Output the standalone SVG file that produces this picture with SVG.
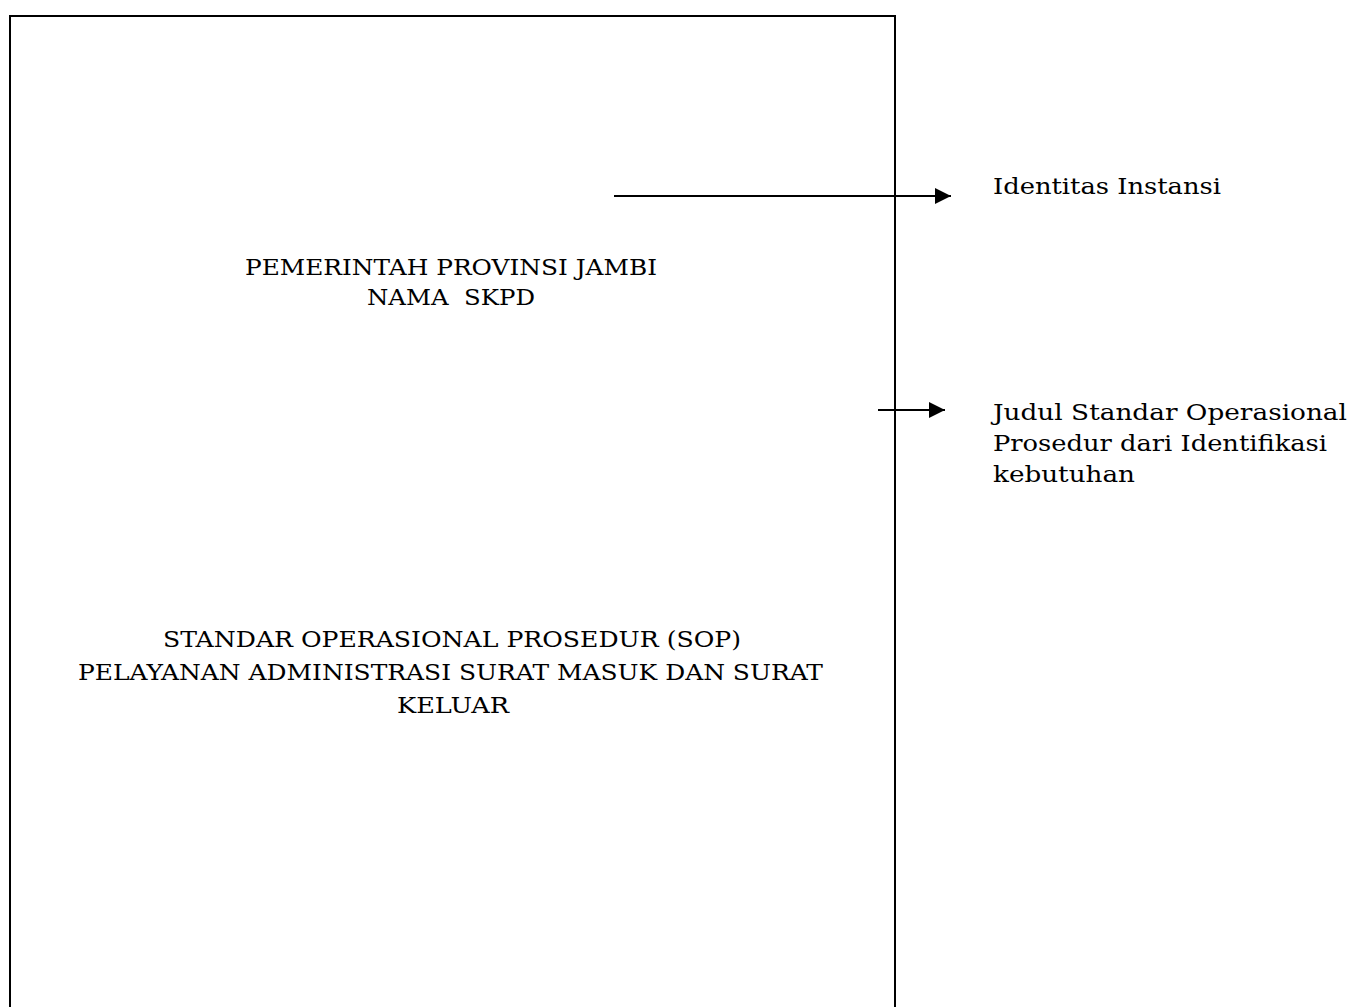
<svg xmlns="http://www.w3.org/2000/svg" width="1352" height="1007" viewBox="0 0 1352 1007">
<style>
  .t { font-family: "DejaVu Serif", "Liberation Serif", serif; fill: #000; white-space: pre; }
  .c { font-size: 23px; text-anchor: middle; }
  .r { font-size: 22.5px; }
  .edge { stroke: #000; stroke-width: 2; fill: none; }
</style>
<defs>
  <marker id="arr" markerWidth="8" markerHeight="8" refX="8" refY="4" orient="auto" markerUnits="strokeWidth">
    <path d="M0,0 L8,4 L0,8 Z" fill="#000"/>
  </marker>
</defs>
<rect width="1352" height="1007" fill="#fff"/>
<g id="page">
  <path d="M10,1008 L10,16 L895,16 L895,1008" class="edge"/>
  <text class="t c" x="451" y="275" textLength="412" lengthAdjust="spacingAndGlyphs">PEMERINTAH PROVINSI JAMBI</text>
  <text class="t c" x="451" y="305" textLength="168" lengthAdjust="spacingAndGlyphs" xml:space="preserve">NAMA  SKPD</text>
  <text class="t c" x="452" y="647" textLength="578" lengthAdjust="spacingAndGlyphs">STANDAR OPERASIONAL PROSEDUR (SOP)</text>
  <text class="t c" x="450.5" y="680" textLength="745" lengthAdjust="spacingAndGlyphs">PELAYANAN ADMINISTRASI SURAT MASUK DAN SURAT</text>
  <text class="t c" x="453" y="713" textLength="112" lengthAdjust="spacingAndGlyphs">KELUAR</text>
</g>
<g id="label-identitas">
  <text class="t r" x="993" y="194" textLength="228" lengthAdjust="spacingAndGlyphs">Identitas Instansi</text>
</g>
<g id="label-judul">
  <text class="t r" x="993" y="420" textLength="354" lengthAdjust="spacingAndGlyphs">Judul Standar Operasional</text>
  <text class="t r" x="993" y="451" textLength="334" lengthAdjust="spacingAndGlyphs">Prosedur dari Identifikasi</text>
  <text class="t r" x="993" y="482" textLength="142" lengthAdjust="spacingAndGlyphs">kebutuhan</text>
</g>
<g id="connectors">
  <line x1="614" y1="196" x2="951" y2="196" class="edge" marker-end="url(#arr)"/>
  <line x1="878" y1="410" x2="945" y2="410" class="edge" marker-end="url(#arr)"/>
</g>
</svg>
